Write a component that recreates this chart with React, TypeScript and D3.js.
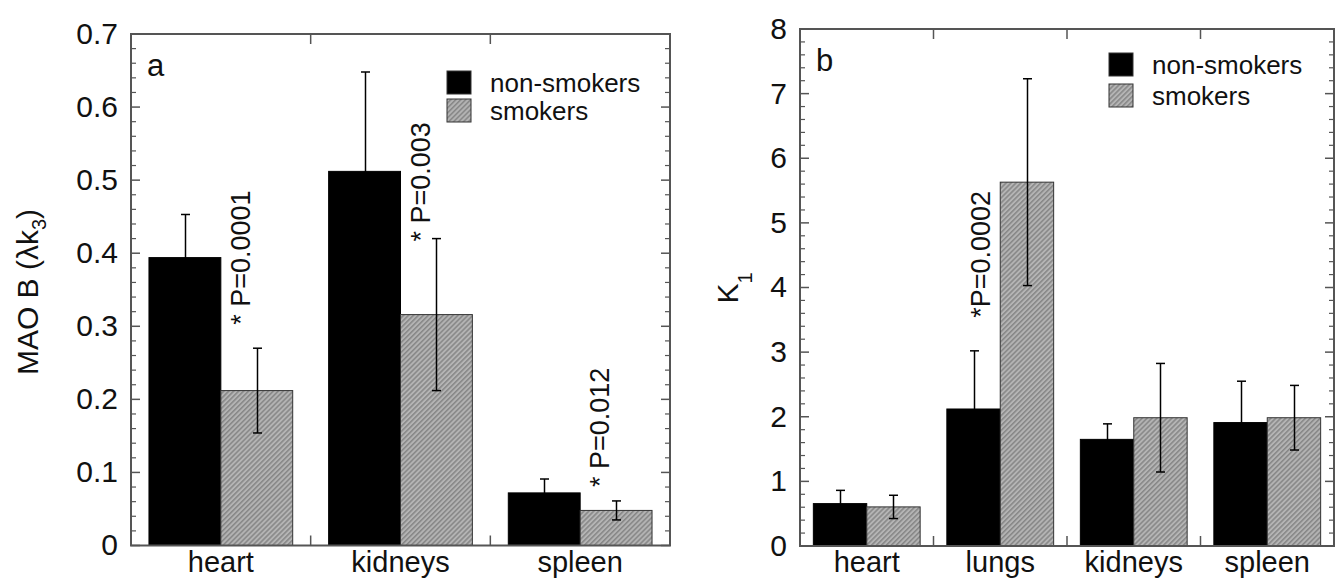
import * as d3 from "d3";

// panel a: MAO B
const categoriesA = ["heart", "kidneys", "spleen"];
const nonSmokersA = [0.394, 0.512, 0.072];
const nonSmokersErrA = [0.059, 0.136, 0.019];
const smokersA = [0.212, 0.316, 0.048];
const smokersErrA = [0.058, 0.104, 0.013];
const pTextA = ["* P=0.0001", "* P=0.003", "* P=0.012"];
const pStartA = [0.302, 0.416, 0.08];
const ticksA = [0, 0.1, 0.2, 0.3, 0.4, 0.5, 0.6, 0.7];

// panel b: K1
const categoriesB = ["heart", "lungs", "kidneys", "spleen"];
const nonSmokersB = [0.656, 2.12, 1.65, 1.91];
const nonSmokersErrB = [0.205, 0.9, 0.24, 0.64];
const smokersB = [0.605, 5.63, 1.985, 1.985];
const smokersErrB = [0.18, 1.6, 0.84, 0.5];
const pTextB = ["", "*P=0.0002", "", ""];
const pStartB = [0, 3.53, 0, 0];
const ticksB = [0, 1, 2, 3, 4, 5, 6, 7, 8];

const seriesNames = ["non-smokers", "smokers"];

const FONT = "'Liberation Sans', Arial, Helvetica, sans-serif";
const AXIS = "#555";

const panelA = {
  id: "a",
  categories: categoriesA,
  nonSmokers: nonSmokersA,
  nonSmokersErr: nonSmokersErrA,
  smokers: smokersA,
  smokersErr: smokersErrA,
  pText: pTextA,
  pStart: pStartA,
  ticks: ticksA,
  minorStep: 0.02,
  format: (d: number) => (d === 0 ? "0" : d3.format(".1f")(d)),
  left: 131, right: 670, top: 34, bottom: 545.5,
  legendX: 447, legendY: 71, legendGap: 28,
  pMode: "side",
};

const panelB = {
  id: "b",
  categories: categoriesB,
  nonSmokers: nonSmokersB,
  nonSmokersErr: nonSmokersErrB,
  smokers: smokersB,
  smokersErr: smokersErrB,
  pText: pTextB,
  pStart: pStartB,
  ticks: ticksB,
  minorStep: 0.2,
  format: (d: number) => String(d),
  left: 800, right: 1334, top: 29, bottom: 546,
  legendX: 1109, legendY: 53, legendGap: 31,
  pMode: "over",
};

function Panel({ cfg }: { cfg: any }) {
  const x = d3.scaleBand().domain(cfg.categories).range([cfg.left, cfg.right]);
  const inner = d3.scaleBand()
    .domain(["ns", "s"])
    .range([0, x.bandwidth()])
    .paddingOuter(0.25);
  const yMax = cfg.ticks[cfg.ticks.length - 1];
  const y = d3.scaleLinear().domain([0, yMax]).range([cfg.bottom, cfg.top]);

  const minor = d3.range(0, yMax + 1e-9, cfg.minorStep)
    .filter(v => !cfg.ticks.some((t: number) => Math.abs(t - v) < 1e-6));
  const bounds = cfg.categories.slice(1).map((c: string) => x(c));
  const bw = inner.bandwidth();

  const series = [
    { key: "ns", values: cfg.nonSmokers, errs: cfg.nonSmokersErr, fill: "#000", stroke: "#000" },
    { key: "s", values: cfg.smokers, errs: cfg.smokersErr, fill: "url(#hatch)", stroke: "#333" },
  ];

  return (
    <g>
      {/* bars */}
      {series.map(s => cfg.categories.map((c: string, i: number) => (
        <rect key={s.key + c}
          x={x(c)! + inner(s.key)!}
          y={y(s.values[i])}
          width={bw}
          height={cfg.bottom - y(s.values[i])}
          fill={s.fill}
          stroke={s.stroke}
          strokeWidth={1} />
      )))}

      {/* error bars (black on black for the non-smokers, so only the top part shows) */}
      {series.map(s => cfg.categories.map((c: string, i: number) => {
        const cx = Math.round(x(c)! + inner(s.key)! + bw / 2) + 0.5;
        const hi = y(s.values[i] + s.errs[i]);
        const lo = y(s.values[i] - s.errs[i]);
        return (
          <g key={"e" + s.key + c} stroke="#000" strokeWidth={1.5}>
            <line x1={cx} x2={cx} y1={hi} y2={lo} />
            <line x1={cx - 4.5} x2={cx + 4.5} y1={hi} y2={hi} />
            <line x1={cx - 4.5} x2={cx + 4.5} y1={lo} y2={lo} />
          </g>
        );
      }))}

      {/* frame */}
      <rect x={cfg.left} y={cfg.top} width={cfg.right - cfg.left} height={cfg.bottom - cfg.top}
        fill="none" stroke={AXIS} strokeWidth={2} />

      {/* y ticks, both sides, pointing in */}
      {cfg.ticks.map((t: number) => (
        <g key={"t" + t} stroke={AXIS} strokeWidth={1.5}>
          <line x1={cfg.left} x2={cfg.left + 9} y1={y(t)} y2={y(t)} />
          <line x1={cfg.right - 9} x2={cfg.right} y1={y(t)} y2={y(t)} />
        </g>
      ))}
      {minor.map((t: number) => (
        <g key={"m" + t} stroke={AXIS} strokeWidth={1.2}>
          <line x1={cfg.left} x2={cfg.left + 5} y1={y(t)} y2={y(t)} />
          <line x1={cfg.right - 5} x2={cfg.right} y1={y(t)} y2={y(t)} />
        </g>
      ))}
      {cfg.ticks.map((t: number) => (
        <text key={"l" + t} x={cfg.left - 13} y={y(t)} dy="0.33em" textAnchor="end"
          fontSize={30} fill="#111">{cfg.format(t)}</text>
      ))}

      {/* category boundaries on top and bottom */}
      {bounds.map((b: number, i: number) => (
        <g key={"b" + i} stroke={AXIS} strokeWidth={1.5}>
          <line x1={b} x2={b} y1={cfg.top} y2={cfg.top + 10} />
          <line x1={b} x2={b} y1={cfg.bottom} y2={cfg.bottom - 10} />
        </g>
      ))}
      {cfg.categories.map((c: string) => (
        <text key={"c" + c} x={x(c)! + x.bandwidth() / 2} y={572} textAnchor="middle"
          fontSize={29} fill="#111">{c}</text>
      ))}

      {/* p values */}
      {cfg.pText.map((p: string, i: number) => {
        if (!p) return null;
        const c = cfg.categories[i];
        const px = cfg.pMode === "side"
          ? x(c)! + inner("ns")! + bw + 29
          : x(c)! + inner("ns")! + bw / 2 + 16;
        return (
          <text key={"p" + i} transform={`translate(${px},${y(cfg.pStart[i])}) rotate(-90)`}
            fontSize={27} fill="#111">{p}</text>
        );
      })}

      {/* panel letter */}
      <text x={cfg.left + 16} y={cfg.top + 42} fontSize={31} fill="#111">{cfg.id}</text>

      {/* legend */}
      {seriesNames.map((n, i) => (
        <g key={n}>
          <rect x={cfg.legendX} y={cfg.legendY + i * cfg.legendGap} width={24} height={23}
            fill={i === 0 ? "#000" : "url(#hatch)"} stroke="#333" strokeWidth={1} />
          <text x={cfg.legendX + 43} y={cfg.legendY + i * cfg.legendGap + 21}
            fontSize={26} fill="#111">{n}</text>
        </g>
      ))}
    </g>
  );
}

export default function App() {
  return (
    <svg width={1338} height={578} fontFamily={FONT}
      style={{ position: "absolute", left: 0, top: 0, background: "#fff" }}>
      <defs>
        <pattern id="hatch" width={3.5} height={3.5} patternUnits="userSpaceOnUse"
          patternTransform="rotate(45)">
          <rect width={3.5} height={3.5} fill="#b4b4b4" />
          <line x1={0.8} x2={0.8} y1={0} y2={3.5} stroke="#7a7a7a" strokeWidth={1.2} />
        </pattern>
      </defs>

      <Panel cfg={panelA} />
      <Panel cfg={panelB} />

      {/* y axis titles */}
      <text transform="translate(38,292) rotate(-90)" textAnchor="middle" fontSize={30} fill="#111">
        MAO B (λk<tspan fontSize={20} dy={8}>3</tspan><tspan dy={-8}>)</tspan>
      </text>
      <text transform="translate(738,288) rotate(-90)" textAnchor="middle" fontSize={30} fill="#111">
        K<tspan fontSize={20} dy={14}>1</tspan>
      </text>
    </svg>
  );
}
